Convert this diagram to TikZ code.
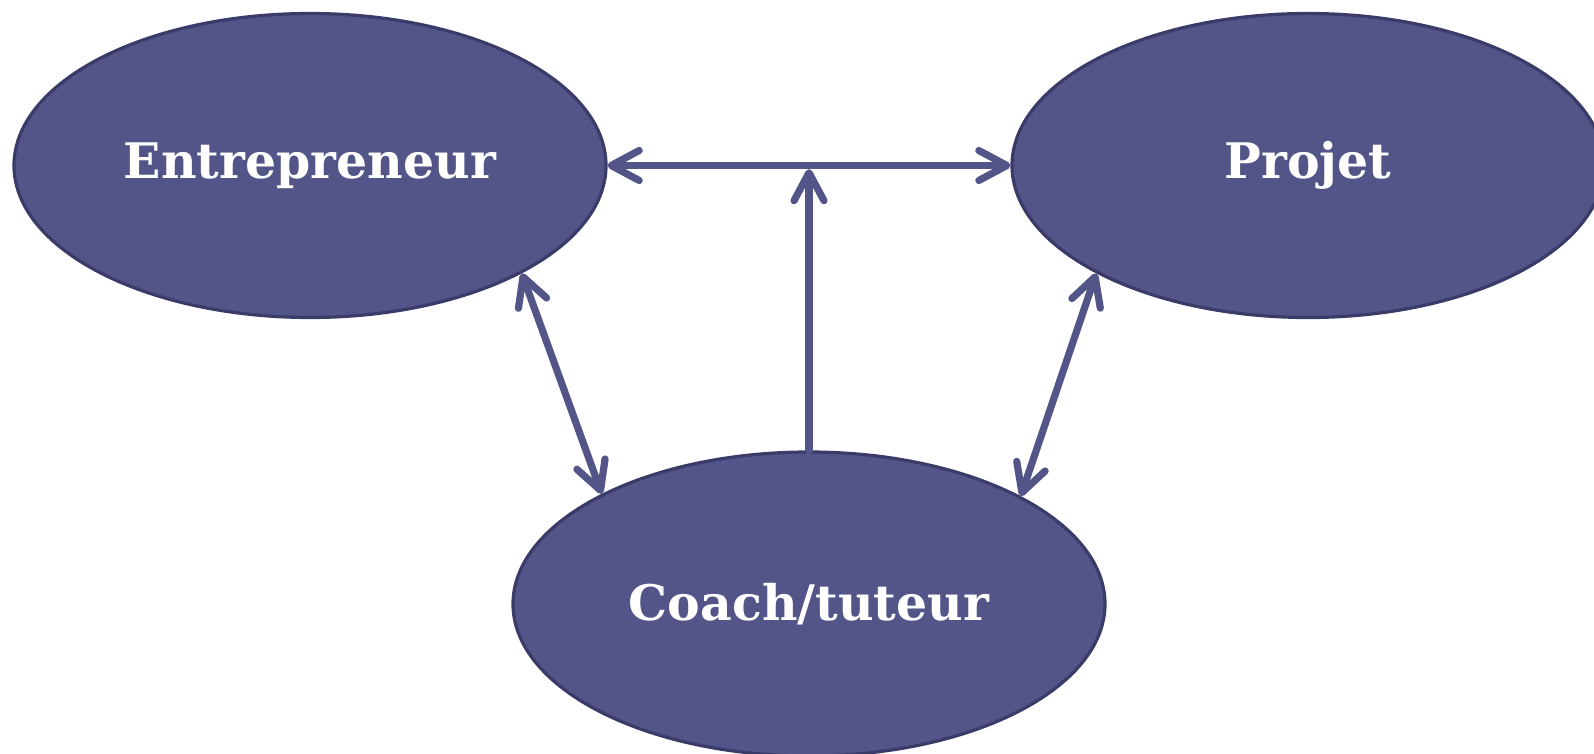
\documentclass[tikz,border=0pt]{standalone}
\usepackage{fontspec}
\setmainfont{DejaVu Serif}
\usetikzlibrary{shapes.geometric,arrows.meta}
\definecolor{nodefill}{RGB}{83,85,137}
\definecolor{nodeedge}{RGB}{58,59,104}
\begin{document}
\begin{tikzpicture}[x=0.5pt,y=-0.5pt,
  blob/.style={ellipse, fill=nodefill, draw=nodeedge, line width=1.6pt,
    minimum width=296pt, minimum height=152pt, inner sep=0pt,
    text=white, font=\fontsize{24.5}{28}\selectfont\bfseries},
  link/.style={draw=nodefill, line width=3.6pt, line cap=round,
    arrows={Straight Barb[round,length=14pt,width=15pt]-Straight Barb[round,length=14pt,width=15pt]}},
  uplink/.style={draw=nodefill, line width=3.6pt, line cap=round,
    -{Straight Barb[round,length=14pt,width=15pt]}}]
\useasboundingbox (0,0) rectangle (1594,754);
\clip (0,0) rectangle (1594,754);
\node[blob] (E) at (310,165.5) {Entrepreneur};
\node[blob] (P) at (1308,165.5) {Projet};
\node[blob] (C) at (809,604) {Coach/tuteur};
\coordinate (M) at (C.north |- E.east);
\draw[link] (E.east) -- (P.west);
\draw[uplink, shorten >=1.8pt] (C.north) -- (M);
\draw[link] (E.-27) -- (C.152.5);
\draw[link] (P.-153) -- (C.27.5);
\end{tikzpicture}
\end{document}
